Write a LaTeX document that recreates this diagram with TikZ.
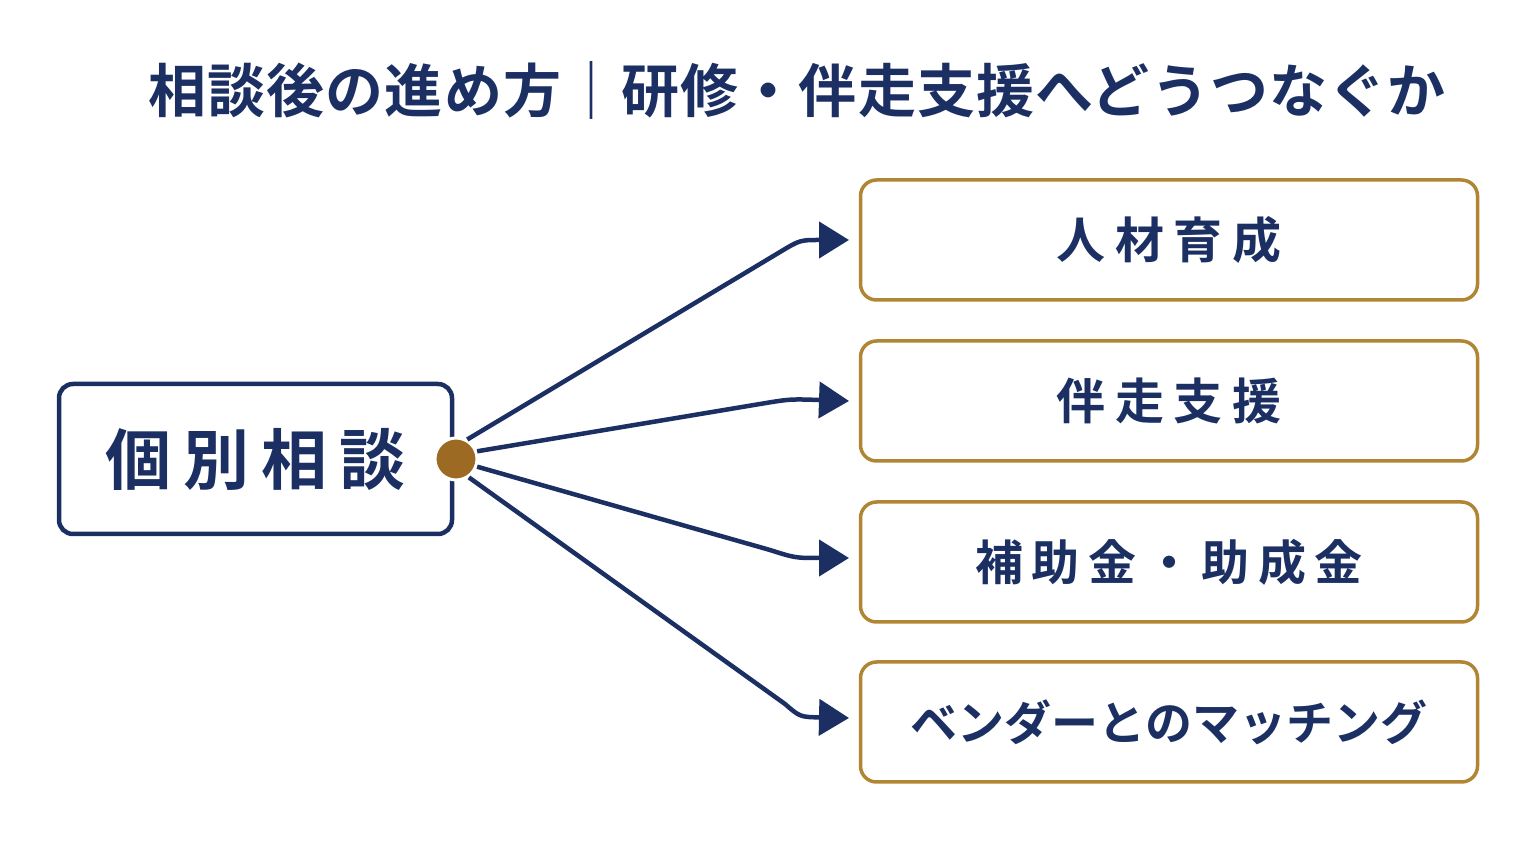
\documentclass[tikz,border=0pt]{standalone}
\usepackage{fontspec}
\newfontfamily\jpb[LetterSpace=18]{Noto Sans CJK JP Bold}
\newfontfamily\jpr[LetterSpace=20]{Noto Sans CJK JP Bold}
\newfontfamily\jpk[LetterSpace=0]{Noto Sans CJK JP Bold}
\newfontfamily\jpt[LetterSpace=2]{Noto Sans CJK JP Bold}
\usetikzlibrary{arrows.meta}
\definecolor{navy}{HTML}{1B2F63}
\definecolor{gold}{HTML}{B08534}
\definecolor{dotc}{HTML}{9C6A22}
\begin{document}
\begin{tikzpicture}[x=1pt,y=1pt,
  lbox/.style={draw=navy,line width=4.5pt,rounded corners=14pt,minimum width=393pt,minimum height=150pt,text=navy,font=\jpb\fontsize{66}{70}\selectfont},
  rbox/.style={draw=gold,line width=3.5pt,rounded corners=16pt,minimum width=617pt,minimum height=120pt,text=navy,font=\jpr\fontsize{49}{52}\selectfont},
  con/.style={draw=navy,line width=4.5pt,-{Triangle[length=30pt,width=36pt]}}]
\useasboundingbox (0,0) rectangle (1536,864);
\node[text=navy,font=\jpt\fontsize{58}{64}\selectfont] (t) at (797,774) {相談後の進め方｜研修・伴走支援へどうつなぐか};
\node[lbox] (l) at (255.5,405) {個別相談};
\node[circle,fill=dotc,draw=white,line width=3pt,minimum size=42pt,inner sep=0pt] (d) at (456,405) {};
\node[rbox] (r1) at (1169,624) {人材育成};
\node[rbox] (r2) at (1169,463) {伴走支援};
\node[rbox,font=\jpb\fontsize{48}{52}\selectfont] (r3) at (1169,302) {補助金・助成金};
\node[rbox,font=\jpk\fontsize{47}{52}\selectfont] (r4) at (1169,142) {ベンダーとのマッチング};
\coordinate (e1) at (849,624); \coordinate (e2) at (849,463);
\coordinate (e3) at (849,306); \coordinate (e4) at (849,146);
\draw[con] (d.60) -- (780,612) .. controls (800,624) .. (e1);
\draw[con] (d.20) -- (760,460) .. controls (790,465) .. (e2);
\draw[con] (d.-20) -- (770,314) .. controls (795,306) .. (e3);
\draw[con] (d.-55) -- (785,160) .. controls (800,147) .. (e4);
\end{tikzpicture}
\end{document}
